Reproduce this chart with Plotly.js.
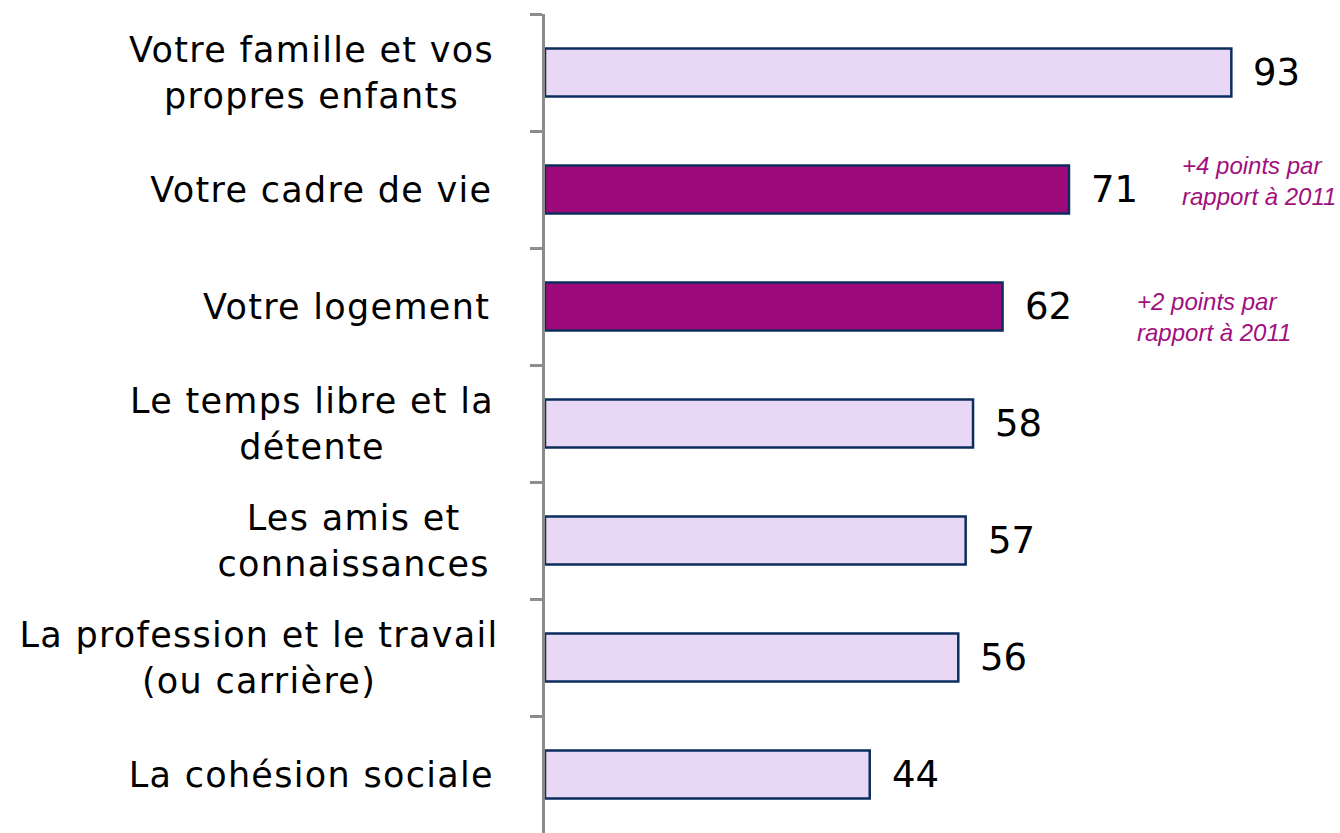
<!DOCTYPE html>
<html>
<head>
<meta charset="utf-8">
<script src="https://cdn.plot.ly/plotly-3.0.1.min.js"></script>
<style>
html,body{margin:0;padding:0;background:#fff;}
#chart{width:1340px;height:833px;}
#chart text.annotation-text[style*='font-family: "DejaVu Sans"']{letter-spacing:1.3px;}
</style>
</head>
<body>
<div id="chart"></div>
<script>
const categories = [
  "Votre famille et vos<br>propres enfants",
  "Votre cadre de vie",
  "Votre logement",
  "Le temps libre et la<br>détente",
  "Les amis et<br>connaissances",
  "La profession et le travail<br>(ou carrière)",
  "La cohésion sociale"
];
const values = [93, 71, 62, 58, 57, 56, 44];
const highlighted = [false, true, true, false, false, false, false];
const notes = ["", "+4 points par<br>rapport à 2011", "+2 points par<br>rapport à 2011", "", "", "", ""];

const lightFill = "#E8D8F6";
const darkFill = "#9C0A7B";
const outline = "#0B2E5E";
const noteColor = "#A0107E";
const axisGray = "#8C8C8C";

const W = 1340, H = 833;
const margin = {l: 545, r: 57, t: 14, b: 0};
const xMax = 100;

const trace = {
  type: "bar",
  orientation: "h",
  y: categories,
  x: values,
  width: 0.41,
  marker: {
    color: highlighted.map(h => h ? darkFill : lightFill),
    line: {color: outline, width: 2.5}
  },
  hoverinfo: "none"
};

const annotations = [];
const plotW = W - margin.l - margin.r;
const labelRightPaper = (483 - margin.l) / plotW;
categories.forEach((c, i) => {
  annotations.push({
    x: labelRightPaper, xref: "paper", xanchor: "right",
    y: c, yref: "y", yanchor: "middle",
    text: c, showarrow: false, align: "center",
    font: {family: "DejaVu Sans, sans-serif", size: 35, color: "#000"}
  });
  annotations.push({
    x: values[i], xref: "x", xanchor: "left", xshift: 20,
    y: c, yref: "y", yanchor: "middle",
    text: String(values[i]), showarrow: false,
    font: {family: "Verdana, DejaVu Sans, sans-serif", size: 37, color: "#000"}
  });
  if (notes[i]) {
    annotations.push({
      x: values[i], xref: "x", xanchor: "left", xshift: (i === 1 ? 111 : 132),
      y: c, yref: "y", yanchor: "middle", yshift: (i === 1 ? 9 : -10),
      text: notes[i], showarrow: false, align: "left",
      font: {family: "Liberation Sans, Arial, sans-serif", size: 24, color: noteColor, style: "italic"}
    });
  }
});

const layout = {
  width: W, height: H,
  margin: margin,
  paper_bgcolor: "#fff", plot_bgcolor: "#fff",
  showlegend: false,
  bargap: 0.59,
  xaxis: {range: [0, xMax], visible: false, fixedrange: true},
  yaxis: {
    type: "category",
    autorange: "reversed",
    showticklabels: false,
    showline: true, linecolor: axisGray, linewidth: 3,
    ticks: "outside", ticklen: 12, tickwidth: 3, tickcolor: axisGray,
    tickson: "boundaries",
    showgrid: false, zeroline: false, fixedrange: true
  },
  annotations: annotations
};

Plotly.newPlot("chart", [trace], layout, {displayModeBar: false, staticPlot: true});
</script>
</body>
</html>
